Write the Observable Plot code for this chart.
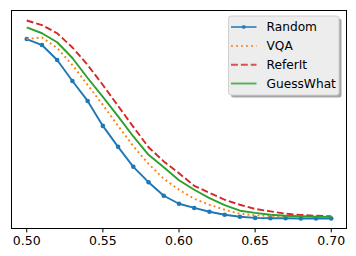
<!DOCTYPE html>
<html>
<head>
<meta charset="utf-8">
<script src="https://cdn.jsdelivr.net/npm/d3@7"></script>
<script src="https://cdn.jsdelivr.net/npm/@observablehq/plot@0.6"></script>
<style>
  html, body { margin: 0; padding: 0; background: #fff; }
  svg { display: block; }
</style>
</head>
<body>
<div id="chart"></div>
<script>
const xs = [0.50,0.51,0.52,0.53,0.54,0.55,0.56,0.57,0.58,0.59,0.60,0.61,0.62,0.63,0.64,0.65,0.66,0.67,0.68,0.69,0.70];
const random    = [0.905,0.875,0.800,0.695,0.595,0.470,0.365,0.265,0.188,0.120,0.080,0.059,0.040,0.025,0.015,0.009,0.007,0.007,0.006,0.006,0.006];
const vqa       = [0.905,0.913,0.860,0.775,0.675,0.575,0.470,0.368,0.280,0.205,0.150,0.105,0.075,0.050,0.030,0.022,0.019,0.017,0.015,0.014,0.013];
const referit   = [0.998,0.975,0.934,0.863,0.775,0.675,0.570,0.465,0.363,0.292,0.233,0.170,0.135,0.100,0.075,0.054,0.042,0.030,0.024,0.020,0.017];
const guesswhat = [0.963,0.934,0.889,0.810,0.710,0.615,0.518,0.417,0.325,0.263,0.198,0.150,0.108,0.073,0.045,0.034,0.025,0.020,0.017,0.015,0.014];
const xTicks = [0.50,0.55,0.60,0.65,0.70];
const seriesNames = ["Random","VQA","ReferIt","GuessWhat"];

const series = [
  {name: "Random", values: random, color: "#1f77b4", dash: null, marker: true},
  {name: "VQA", values: vqa, color: "#ff7f0e", dash: "1.9,3.1", marker: false},
  {name: "ReferIt", values: referit, color: "#d62728", dash: "6.9,3", marker: false},
  {name: "GuessWhat", values: guesswhat, color: "#2ca02c", dash: null, marker: false}
];

const rows = s => xs.map((x, i) => ({x, y: s.values[i]}));

const marks = [];
for (const s of series) {
  marks.push(Plot.line(rows(s), {x: "x", y: "y", stroke: s.color, strokeWidth: 1.9, strokeDasharray: s.dash, strokeLinecap: "butt"}));
  if (s.marker) marks.push(Plot.dot(rows(s), {x: "x", y: "y", fill: s.color, r: 2.3, stroke: null}));
}
marks.push(Plot.frame({stroke: "#000", strokeWidth: 1}));
marks.push(Plot.axisX({ticks: xTicks, tickFormat: d3.format(".2f"), tickSize: 4.4, tickPadding: 3, fontSize: 12.5, stroke: "#000", fill: "#000", label: null}));

const plot = Plot.plot({
  width: 356,
  height: 256,
  marginLeft: 11,
  marginRight: 10,
  marginTop: 10,
  marginBottom: 28,
  style: {fontFamily: "DejaVu Sans", fontSize: "12.5px", background: "#fff", color: "#000"},
  x: {domain: [0.49, 0.71]},
  y: {domain: [-0.044, 1.048], axis: null},
  marks
});

// Legend
const svg = d3.select(plot);
const g = svg.append("g").attr("font-family", "DejaVu Sans").attr("font-size", 12.2).attr("text-anchor", "start");
const bx = 228.5, by = 16, bw = 110.5, bh = 79;
g.append("rect").attr("x", bx + 2.5).attr("y", by + 2.5).attr("width", bw).attr("height", bh)
  .attr("rx", 2.5).attr("fill", "#a6a6a6");
g.append("rect").attr("x", bx).attr("y", by).attr("width", bw).attr("height", bh)
  .attr("rx", 2.5).attr("fill", "#ededed").attr("stroke", "#d0d0d0").attr("stroke-width", 1);
const ys = [27, 46, 64.7, 83.5];
series.forEach((s, i) => {
  const y = ys[i];
  g.append("line").attr("x1", 231).attr("x2", 256.5).attr("y1", y).attr("y2", y)
    .attr("stroke", s.color).attr("stroke-width", 1.9).attr("stroke-opacity", 0.8)
    .attr("stroke-dasharray", s.dash);
  if (s.marker) g.append("circle").attr("cx", 243.75).attr("cy", y).attr("r", 2).attr("fill", s.color).attr("fill-opacity", 0.8);
  g.append("text").attr("x", 266.5).attr("y", y).attr("dy", "0.36em").attr("text-anchor", "start").attr("fill", "#000").text(seriesNames[i]);
});

document.getElementById("chart").appendChild(plot);
</script>
</body>
</html>
